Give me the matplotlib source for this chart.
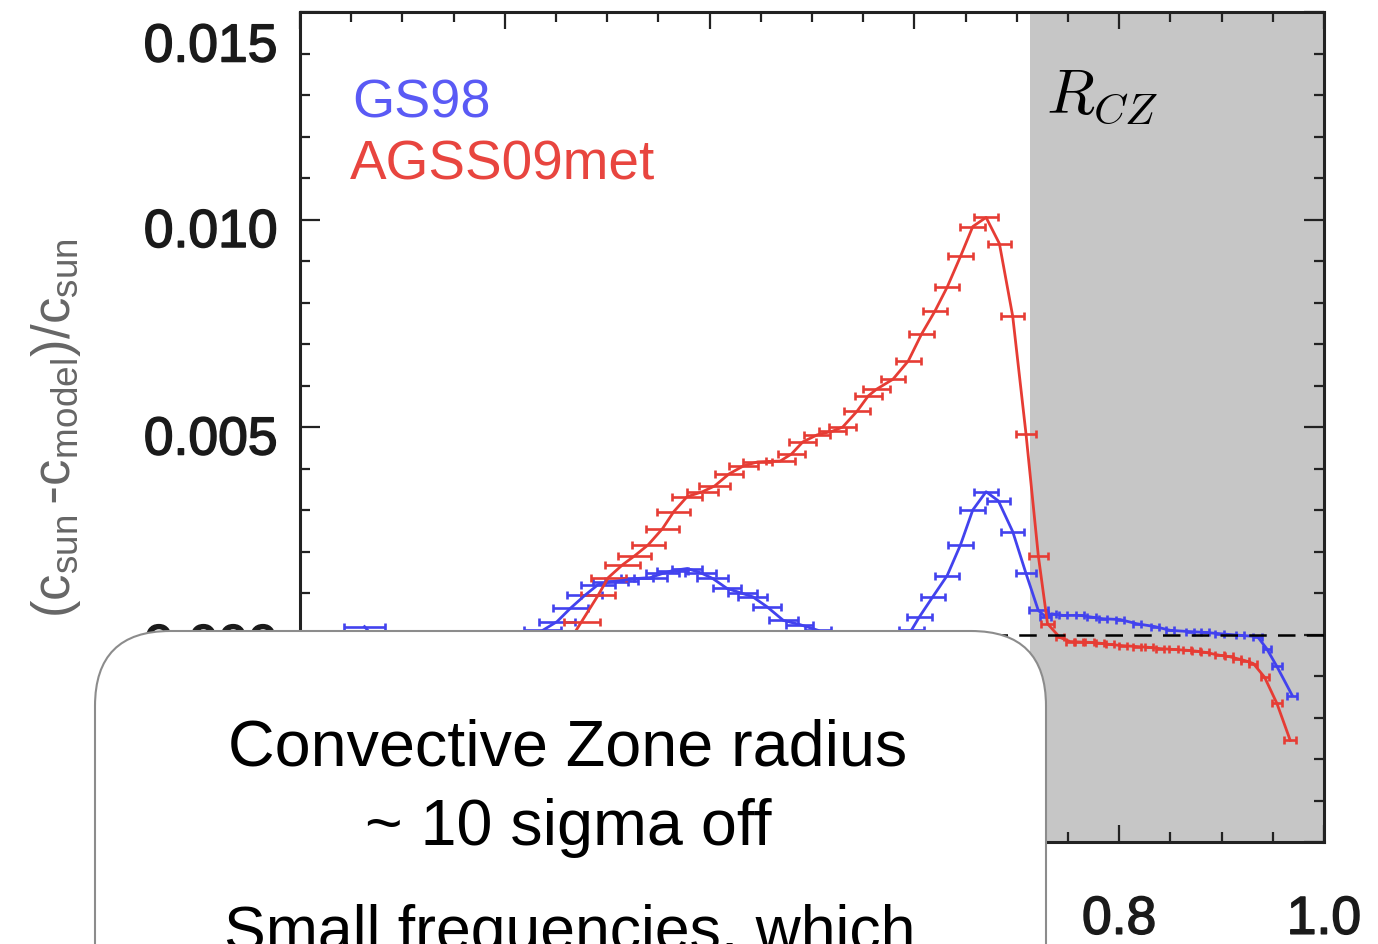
import matplotlib
matplotlib.use("Agg")
import matplotlib.pyplot as plt
import matplotlib.patheffects as pe
import numpy as np
from matplotlib.patches import FancyBboxPatch
from matplotlib.ticker import MultipleLocator, FormatStrFormatter
from matplotlib.transforms import IdentityTransform, ScaledTranslation


# sound-speed residuals, in units of 1e-3, against fractional radius
r_agss = [0.065, 0.10, 0.15, 0.20, 0.23, 0.248, 0.262, 0.275, 0.291, 0.301,
          0.315, 0.327, 0.340, 0.354, 0.365, 0.378, 0.393, 0.405, 0.419, 0.433,
          0.447, 0.469, 0.480, 0.491, 0.505, 0.520, 0.530, 0.544, 0.555, 0.563,
          0.579, 0.594, 0.607, 0.620, 0.632, 0.645, 0.657, 0.670, 0.683, 0.696,
          0.709, 0.721, 0.730, 0.742, 0.752, 0.761, 0.771, 0.781, 0.791, 0.804,
          0.817, 0.829, 0.840, 0.853, 0.866, 0.875, 0.884, 0.898, 0.907, 0.915,
          0.923, 0.931, 0.942, 0.954, 0.967]
dc_agss = [-2.2, -2.5, -2.6, -2.1, -1.3, -0.7, -0.2, 0.31, 0.94, 1.37,
           1.68, 1.90, 2.16, 2.55, 2.96, 3.32, 3.44, 3.58, 3.87, 4.06,
           4.16, 4.18, 4.35, 4.64, 4.81, 4.90, 5.00, 5.38, 5.75, 5.91,
           6.15, 6.59, 7.24, 7.79, 8.37, 9.11, 9.83, 10.05, 9.42, 7.67,
           4.83, 1.90, 0.26, -0.07, -0.17, -0.18, -0.19, -0.21, -0.24, -0.27,
           -0.29, -0.31, -0.34, -0.36, -0.38, -0.40, -0.43, -0.50, -0.53, -0.58,
           -0.63, -0.70, -1.03, -1.66, -2.55]
err_agss = [0.020, 0.020, 0.020, 0.020, 0.018, 0.018, 0.018, 0.0175, 0.017, 0.017,
            0.017, 0.016, 0.016, 0.016, 0.016, 0.015, 0.015, 0.015, 0.014, 0.014,
            0.014, 0.014, 0.013, 0.013, 0.013, 0.013, 0.013, 0.013, 0.013, 0.013,
            0.012, 0.012, 0.012, 0.012, 0.012, 0.012, 0.012, 0.012, 0.011, 0.011,
            0.010, 0.009, 0.006, 0.004, 0.004, 0.004, 0.004, 0.004, 0.004, 0.004,
            0.004, 0.004, 0.004, 0.004, 0.004, 0.004, 0.004, 0.004, 0.004, 0.004,
            0.004, 0.004, 0.004, 0.005, 0.006]

r_gs98 = [0.063, 0.08, 0.11, 0.15, 0.19, 0.22, 0.237, 0.251, 0.264, 0.278,
          0.291, 0.303, 0.314, 0.329, 0.342, 0.354, 0.364, 0.378, 0.391, 0.403,
          0.417, 0.432, 0.442, 0.456, 0.472, 0.488, 0.506, 0.53, 0.56, 0.585,
          0.597, 0.605, 0.618, 0.632, 0.645, 0.657, 0.670, 0.682, 0.696, 0.709,
          0.721, 0.728, 0.734, 0.745, 0.762, 0.773, 0.784, 0.801, 0.817, 0.835,
          0.850, 0.869, 0.884, 0.898, 0.918, 0.935, 0.944, 0.954, 0.969]
dc_gs98 = [0.19, -0.3, -1.0, -1.4, -1.2, -0.5, 0.10, 0.31, 0.63, 0.94,
           1.20, 1.27, 1.30, 1.35, 1.37, 1.47, 1.54, 1.59, 1.49, 1.35,
           1.11, 0.99, 0.91, 0.67, 0.34, 0.24, 0.10, -0.3, -0.6, -0.3,
           0.10, 0.43, 0.91, 1.42, 2.16, 3.00, 3.44, 3.22, 2.48, 1.47,
           0.58, 0.43, 0.50, 0.46, 0.46, 0.42, 0.38, 0.36, 0.26, 0.19,
           0.10, 0.07, 0.05, 0.02, -0.02, -0.05, -0.34, -0.77, -1.47]
err_gs98 = [0.020, 0.020, 0.020, 0.020, 0.020, 0.018, 0.018, 0.018, 0.017, 0.017,
            0.017, 0.017, 0.016, 0.016, 0.016, 0.016, 0.015, 0.015, 0.015, 0.015,
            0.014, 0.014, 0.014, 0.014, 0.014, 0.013, 0.013, 0.013, 0.013, 0.012,
            0.012, 0.012, 0.012, 0.012, 0.012, 0.012, 0.012, 0.011, 0.011, 0.010,
            0.009, 0.005, 0.004, 0.004, 0.004, 0.004, 0.004, 0.004, 0.004, 0.004,
            0.004, 0.004, 0.004, 0.004, 0.004, 0.004, 0.004, 0.005, 0.005]

R_CZ = 0.713

RED = "#e63c34"
BLUE = "#4242ee"

fig = plt.figure(figsize=(13.78, 9.45), dpi=100)
ax = fig.add_axes([300 / 1378, 102 / 945, 1024 / 1378, 830 / 945])

ax.axvspan(R_CZ, 1.0, color="#c6c6c6", lw=0, zorder=0)

for r, dc, err, col in [(r_gs98, dc_gs98, err_gs98, BLUE),
                        (r_agss, dc_agss, err_agss, RED)]:
    ax.errorbar(np.array(r), np.array(dc) * 1e-3, xerr=err, color=col,
                lw=2.0, elinewidth=1.9, capsize=3.2, capthick=1.9, zorder=3)

ax.axhline(0, color="black", lw=1.8, ls=(0, (7, 4.5)), zorder=4)

ax.set_xlim(0, 1.0)
ax.set_ylim(-0.005, 0.015)
ax.xaxis.set_major_locator(MultipleLocator(0.2))
ax.xaxis.set_minor_locator(MultipleLocator(0.05))
ax.yaxis.set_major_locator(MultipleLocator(0.005))
ax.yaxis.set_minor_locator(MultipleLocator(0.001))
ax.xaxis.set_major_formatter(FormatStrFormatter("%.1f"))
ax.yaxis.set_major_formatter(FormatStrFormatter("%.3f"))

ax.tick_params(which="both", direction="in", top=True, right=True,
               width=1.6, color="#222222", labelcolor="#1a1a1a")
ax.tick_params(axis="y", which="major", length=14.5, pad=16)
ax.tick_params(axis="y", which="minor", length=7)
ax.tick_params(axis="x", which="major", length=12.5, pad=38)
ax.tick_params(axis="x", which="minor", length=7)
for spine in ax.spines.values():
    spine.set_linewidth(2.2)
    spine.set_color("#222222")

heavy = [pe.withStroke(linewidth=1.1, foreground="#1a1a1a")]
for lab in ax.get_xticklabels() + ax.get_yticklabels():
    lab.set_fontfamily("Liberation Sans")
    lab.set_fontsize(38.5)
    lab.set_path_effects(heavy)

# labels covered by the note box are left out
for val, lab in zip(ax.get_xticks(), ax.get_xticklabels()):
    if val < 0.7:
        lab.set_visible(False)

# y labels sit a little below their ticks; the top one is pulled inside the figure
for val, lab in zip(ax.get_yticks(), ax.get_yticklabels()):
    if val < -0.001:
        lab.set_visible(False)
    shift = -30 if val > 0.0149 else -8
    lab.set_transform(lab.get_transform()
                      + ScaledTranslation(0, shift / 100, fig.dpi_scale_trans))

ax.text(0.051, 0.8735, "GS98", transform=ax.transAxes, color="#5a5af5",
        fontsize=39, family="Liberation Sans", va="baseline", ha="left")
ax.text(0.049, 0.7988, "AGSS09met", transform=ax.transAxes, color="#e8453f",
        fontsize=39.5, family="Liberation Sans", va="baseline", ha="left")
ax.text(0.729, 0.879, r"$R_{CZ}$", transform=ax.transAxes, color="black",
        fontsize=45, math_fontfamily="cm", va="baseline", ha="left")

fig.text(56 / 1378, (945 - 428) / 945,
         r"$\mathregular{(c_{sun}\,{\text{-}}c_{model})/c_{sun}}$",
         rotation=90, ha="center", va="center", color="#666666",
         fontsize=38, family="Liberation Sans")

# rounded note box laid over the lower part of the plot
box = FancyBboxPatch((95, -120), 951, 433,
                     boxstyle="round,pad=0,rounding_size=75",
                     transform=IdentityTransform(), facecolor="white",
                     edgecolor="#8c8c8c", lw=1.5, zorder=10)
fig.add_artist(box)

note_kw = dict(ha="center", va="baseline", fontsize=46.5,
               family="Liberation Sans", color="black", zorder=11)
fig.text(568 / 1378, (945 - 766) / 945, "Convective Zone radius", **note_kw)
fig.text(568 / 1378, (945 - 845) / 945, "~ 10 sigma off", **note_kw)
fig.text(570 / 1378, (945 - 950) / 945, "Small frequencies, which",
         **{**note_kw, "fontsize": 45})

fig.savefig("out.png", dpi=100)
